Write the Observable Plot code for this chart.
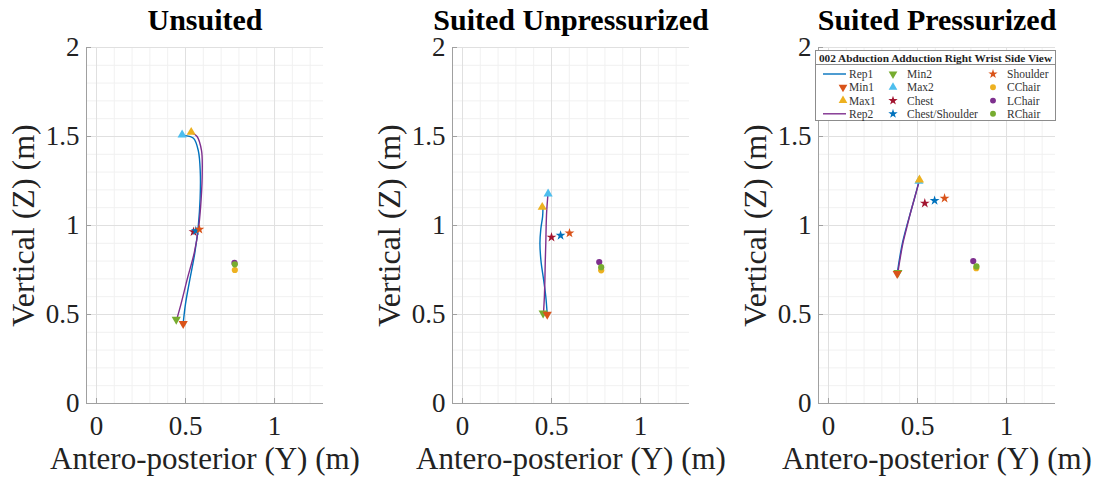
<!DOCTYPE html>
<html><head><meta charset="utf-8">
<script src="https://cdn.jsdelivr.net/npm/d3@7"></script>
<script src="https://cdn.jsdelivr.net/npm/@observablehq/plot@0.6"></script>
<style>
html,body{margin:0;padding:0;background:#fff;}
#wrap{position:relative;width:1098px;height:481px;display:flex;overflow:hidden;}
#wrap > div.panel{width:366px;height:481px;}
#legend{position:absolute;left:815px;top:50px;}
</style></head><body><div id="wrap"></div><script>
// ---------- data ----------
const panelTitles = ["Unsuited", "Suited Unpressurized", "Suited Pressurized"];
const xLabel = "Antero-posterior (Y) (m)";
const yLabel = "Vertical (Z) (m)";
const xTicks = [0, 0.5, 1];
const yTicks = [0, 0.5, 1, 1.5, 2];
const xMinor = [0, 0.1, 0.2, 0.3, 0.4, 0.5, 0.6, 0.7, 0.8, 0.9, 1, 1.1, 1.2];
const yMinor = [0, 0.1, 0.2, 0.3, 0.4, 0.5, 0.6, 0.7, 0.8, 0.9, 1, 1.1, 1.2, 1.3, 1.4, 1.5, 1.6, 1.7, 1.8, 1.9, 2];
const xLimits = [-0.056, 1.275];
const yLimits = [0, 2];

// Rep trajectories [Y, Z]
const rep1Unsuited = [[0.487,0.45],[0.50,0.56],[0.525,0.70],[0.553,0.85],[0.572,1.0],[0.582,1.15],[0.583,1.30],[0.572,1.42],[0.545,1.49],[0.50,1.505]];
const rep2Unsuited = [[0.45,0.47],[0.475,0.56],[0.51,0.70],[0.55,0.85],[0.575,1.0],[0.588,1.15],[0.594,1.30],[0.59,1.42],[0.565,1.50],[0.535,1.52]];
const rep1SuitedUnpress = [[0.476,0.50],[0.468,0.60],[0.455,0.70],[0.441,0.80],[0.435,0.90],[0.44,0.98],[0.45,1.05],[0.452,1.10]];
const rep2SuitedUnpress = [[0.455,0.507],[0.46,0.60],[0.463,0.70],[0.465,0.80],[0.468,0.90],[0.47,1.0],[0.473,1.08],[0.48,1.175]];
const rep1SuitedPress = [[0.386,0.73],[0.40,0.82],[0.415,0.90],[0.435,0.98],[0.46,1.07],[0.485,1.16],[0.51,1.255]];
const rep2SuitedPress = [[0.39,0.74],[0.405,0.83],[0.418,0.90],[0.44,0.99],[0.463,1.08],[0.488,1.17],[0.51,1.25]];

// Marker points (draw order)
const markerNames = ["Min2","Max2","Min1","Max1","Chest","Chest/Shoulder","Shoulder","CChair","LChair","RChair"];
const markersUnsuitedY = [0.448, 0.481, 0.487, 0.532, 0.545, 0.558, 0.578, 0.777, 0.775, 0.777];
const markersUnsuitedZ = [0.472, 1.509, 0.448, 1.524, 0.965, 0.970, 0.978, 0.750, 0.790, 0.782];
const markersUnpressY = [0.453, 0.481, 0.476, 0.448, 0.500, 0.551, 0.601, 0.779, 0.768, 0.779];
const markersUnpressZ = [0.507, 1.178, 0.500, 1.103, 0.934, 0.944, 0.957, 0.748, 0.795, 0.766];
const markersPressY = [0.390, 0.508, 0.386, 0.511, 0.541, 0.596, 0.652, 0.830, 0.813, 0.831];
const markersPressZ = [0.735, 1.250, 0.729, 1.257, 1.125, 1.140, 1.153, 0.760, 0.800, 0.770];

const legendTitle = "002 Abduction Adduction Right Wrist Side View";
const legendColumns = [["Rep1","Min1","Max1","Rep2"],["Min2","Max2","Chest","Chest/Shoulder"],["Shoulder","CChair","LChair","RChair"]];

// ---------- styles ----------
const colors = {Rep1:"#0072BD", Rep2:"#7E2F8E", Min1:"#D95319", Max1:"#EDB120", Min2:"#77AC30", Max2:"#4DBEEE",
  Chest:"#A2142F", "Chest/Shoulder":"#0072BD", Shoulder:"#D95319", CChair:"#EDB120", LChair:"#7E2F8E", RChair:"#77AC30"};
const triUp = {draw(ctx, size){ const y = -Math.sqrt(size/(Math.sqrt(3)*3)); ctx.moveTo(0, y*2); ctx.lineTo(-Math.sqrt(3)*y, -y); ctx.lineTo(Math.sqrt(3)*y, -y); ctx.closePath(); }};
const triDown = {draw(ctx, size){ const y = Math.sqrt(size/(Math.sqrt(3)*3)); ctx.moveTo(0, y*2); ctx.lineTo(-Math.sqrt(3)*y, -y); ctx.lineTo(Math.sqrt(3)*y, -y); ctx.closePath(); }};
const kind = {Min1:"down", Min2:"down", Max1:"up", Max2:"up", Chest:"star", "Chest/Shoulder":"star", Shoulder:"star", CChair:"dot", LChair:"dot", RChair:"dot"};
const symbolOf = {down: triDown, up: triUp, star: d3.symbolStar, dot: d3.symbolCircle};
const radiusOf = {down: 3.4, up: 3.4, star: 3.1, dot: 3.1};
const fontFamily = "'Liberation Serif','Times New Roman',Times,serif";

const reps = [[rep1Unsuited, rep2Unsuited],[rep1SuitedUnpress, rep2SuitedUnpress],[rep1SuitedPress, rep2SuitedPress]];
const markY = [markersUnsuitedY, markersUnpressY, markersPressY];
const markZ = [markersUnsuitedZ, markersUnpressZ, markersPressZ];

const wrap = document.getElementById("wrap");

function panel(i) {
  const pts = markerNames.map((n, k) => ({name: n, y: markY[i][k], z: markZ[i][k]}));
  const orderedDots = pts.map(p => Plot.dot([p], {x: "y", y: "z", fill: colors[p.name], symbol: symbolOf[kind[p.name]], r: radiusOf[kind[p.name]], stroke: "none"}));
  return Plot.plot({
    width: 366, height: 481, marginLeft: 86, marginRight: 43, marginTop: 47, marginBottom: 78,
    x: {domain: xLimits}, y: {domain: yLimits},
    style: {fontFamily, color: "#222", background: "#fff", overflow: "visible"},
    marks: [
      Plot.gridX(xMinor, {stroke: "#f1f1f1", strokeOpacity: 1}),
      Plot.gridY(yMinor, {stroke: "#f1f1f1", strokeOpacity: 1}),
      Plot.gridX(xTicks, {stroke: "#e0e0e0", strokeOpacity: 1}),
      Plot.gridY(yTicks, {stroke: "#e0e0e0", strokeOpacity: 1}),
      Plot.ruleX([xLimits[0]], {stroke: "#a0a0a0"}),
      Plot.ruleY([yLimits[0]], {stroke: "#a0a0a0"}),
      Plot.ruleX(xTicks, {x: d => d, y1: yLimits[0], y2: yLimits[0], insetTop: -5, stroke: "#a0a0a0"}),
      Plot.ruleY(yTicks, {y: d => d, x1: xLimits[0], x2: xLimits[0], insetRight: -5, stroke: "#a0a0a0"}),
      Plot.axisX({ticks: xTicks, tickSize: 0, tickPadding: 12, fontSize: 27, tickFormat: d => String(d), label: null, fill: "#222"}),
      Plot.axisY({ticks: yTicks, tickSize: 0, tickPadding: 7, fontSize: 27, tickFormat: d => String(d), label: null, fill: "#222"}),
      Plot.line(reps[i][0], {x: d => d[0], y: d => d[1], stroke: colors.Rep1, strokeWidth: 1.4, curve: "catmull-rom"}),
      Plot.line(reps[i][1], {x: d => d[0], y: d => d[1], stroke: colors.Rep2, strokeWidth: 1.4, curve: "catmull-rom"}),
      ...orderedDots,
      Plot.text([panelTitles[i]], {text: d => d, frameAnchor: "top", dy: -27, fontSize: 30, fontWeight: "bold", lineAnchor: "middle", fill: "#000"}),
      Plot.text([xLabel], {text: d => d, frameAnchor: "bottom", dy: 56, fontSize: 31, lineAnchor: "middle", textAnchor: "middle", fill: "#222"}),
      Plot.text([yLabel], {text: d => d, frameAnchor: "left", dx: -63, rotate: -90, fontSize: 32, lineAnchor: "middle", textAnchor: "middle", fill: "#222"})
    ]
  });
}

panelTitles.forEach((t, i) => {
  const d = document.createElement("div");
  d.className = "panel";
  d.appendChild(panel(i));
  wrap.appendChild(d);
});

// ---------- legend ----------
const lg = d3.select(wrap).append("svg").attr("id", "legend").attr("width", 241).attr("height", 71)
  .style("font-family", fontFamily);
lg.append("rect").attr("x", 0.5).attr("y", 0.5).attr("width", 240).attr("height", 70).attr("fill", "#fff").attr("stroke", "#8c8c8c");
lg.append("line").attr("x1", 0.5).attr("x2", 240.5).attr("y1", 14.5).attr("y2", 14.5).attr("stroke", "#8c8c8c");
lg.append("text").attr("x", 120.5).attr("y", 8).attr("dy", "0.34em").attr("text-anchor", "middle")
  .attr("font-size", 11.3).attr("font-weight", "bold").attr("fill", "#222").text(legendTitle);
const colMarkX = [28, 78, 178];
const colTextX = [34, 92, 192];
const rowY = [24, 37.3, 50.6, 63.8];
legendColumns.forEach((col, c) => col.forEach((name, r) => {
  const y = rowY[r];
  if (name.startsWith("Rep")) {
    lg.append("line").attr("x1", 8).attr("x2", 31).attr("y1", y).attr("y2", y).attr("stroke", colors[name]).attr("stroke-width", 1.4);
  } else {
    const k = kind[name];
    const sz = Math.PI * Math.pow(radiusOf[k] * 0.95, 2);
    lg.append("path").attr("transform", `translate(${colMarkX[c]},${y})`)
      .attr("d", d3.symbol().type(symbolOf[k]).size(sz)()).attr("fill", colors[name]);
  }
  lg.append("text").attr("x", colTextX[c]).attr("y", y).attr("dy", "0.34em").attr("font-size", 11.5)
    .attr("fill", "#333").text(name);
}));
</script></body></html>
